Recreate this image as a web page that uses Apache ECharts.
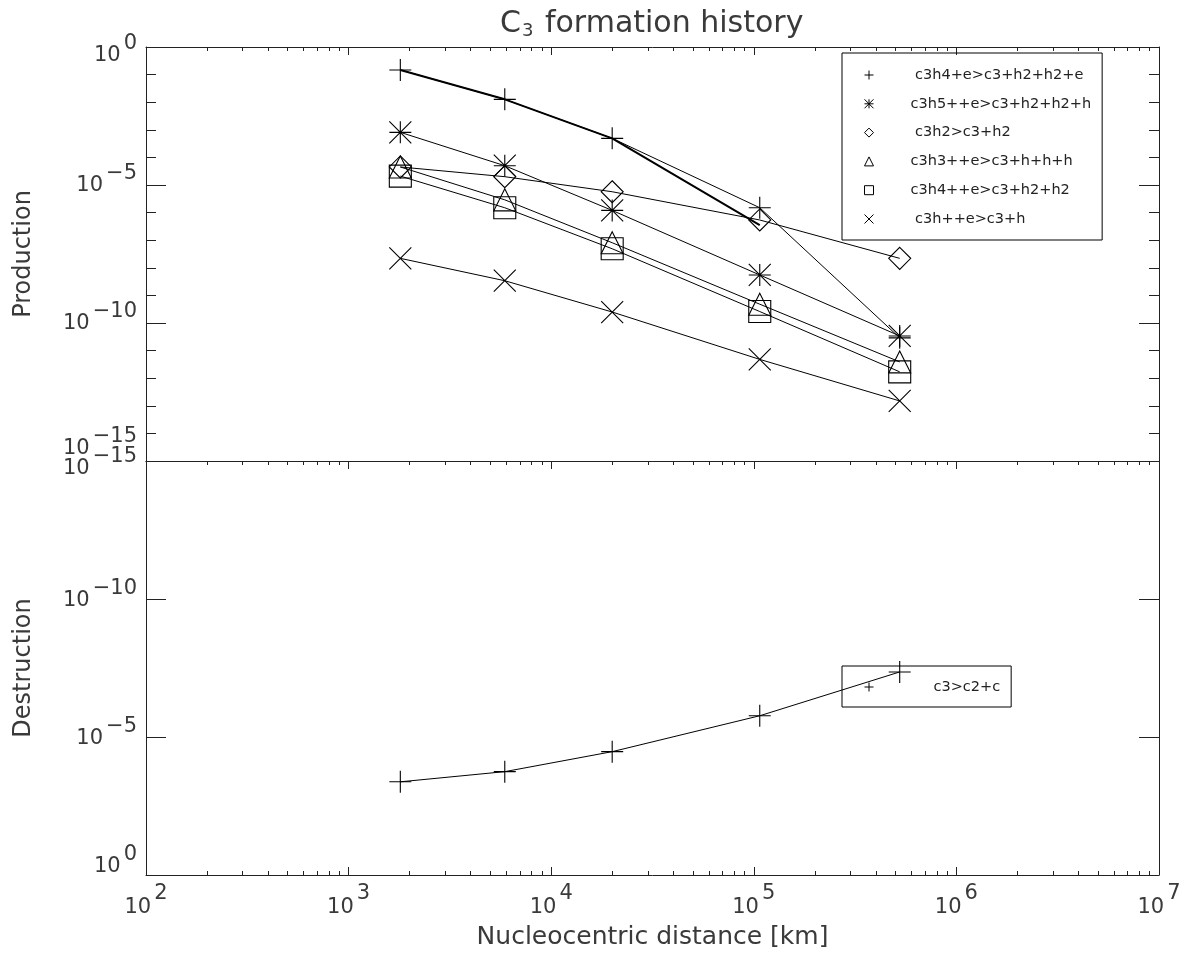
<!DOCTYPE html>
<html>
<head>
<meta charset="utf-8">
<script src="https://cdn.jsdelivr.net/npm/echarts@6/dist/echarts.min.js"></script>
<style>html,body{margin:0;padding:0;background:#fff}#c{width:1195px;height:955px}</style>
</head>
<body>
<div id="c"></div>
<script>
// ---------------- data ----------------
const distances = [1.8e3, 5.9e3, 2.0e4, 1.07e5, 5.25e5];           // km
const prod_c3h4_e   = [1.47e-1, 1.27e-2, 4.9e-4, 1.5e-6, 2.9e-11];
const prod_c3h4_e_b = [1.47e-1, 1.27e-2, 4.9e-4, 3.5e-7];          // heavy curve (no symbols)
const prod_c3h5p_e  = [8.1e-4, 5.0e-5, 1.2e-6, 5.5e-9, 3.4e-11];
const prod_c3h2     = [4.5e-5, 2.0e-5, 5.7e-6, 5.4e-7, 2.2e-8];
const prod_c3h3p_e  = [4.5e-5, 2.9e-6, 8.1e-8, 4.8e-10, 3.9e-12];
const prod_c3h4p_e  = [2.1e-5, 1.5e-6, 4.9e-8, 2.6e-10, 1.7e-12];
const prod_c3hp_e   = [2.2e-8, 3.4e-9, 2.5e-10, 4.8e-12, 1.5e-13];
const dest_c3       = [4.2e-4, 1.8e-4, 3.4e-5, 1.7e-6, 4.4e-8];

const productionNames = [' c3h4+e>c3+h2+h2+e', 'c3h5++e>c3+h2+h2+h', ' c3h2>c3+h2',
                         'c3h3++e>c3+h+h+h', 'c3h4++e>c3+h2+h2', ' c3h++e>c3+h'];
const destructionNames = ['c3>c2+c'];

const xMajorTicks = [1e2, 1e3, 1e4, 1e5, 1e6, 1e7];
const xMinorMult  = [2, 3, 4, 5, 6, 7, 8, 9];
const yMajorTicks = [1e-15, 1e-10, 1e-5, 1e0];
const yDecadeTicks = [1e-15,1e-14,1e-13,1e-12,1e-11,1e-10,1e-9,1e-8,1e-7,1e-6,1e-5,1e-4,1e-3,1e-2,1e-1,1e0];

const titleMain = 'C', titleSub = '3', titleRest = ' formation history';
const xName = 'Nucleocentric distance [km]';
const yNameTop = 'Production', yNameBottom = 'Destruction';

// ---------------- style helpers ----------------
const FONT = 'DejaVu Sans';
const INK = '#222';
const TXT = '#3a3a3a';
const SYM = {
  plus: 'path://M0,5L10,5M5,0L5,10',
  asterisk: 'path://M0,5L10,5M5,0L5,10M0,0L10,10M10,0L0,10',
  diamond: 'path://M5,0L10,5L5,10L0,5Z',
  triangle: 'path://M5,0L10,10L0,10Z',
  square: 'path://M0,0L10,0L10,10L0,10Z',
  cross: 'path://M0,0L10,10M10,0L0,10'
};
const prodSymbols = ['plus', 'asterisk', 'diamond', 'triangle', 'square', 'cross'];
const xMinorTicks = xMajorTicks.slice(0, -1).flatMap(d => xMinorMult.map(k => k * d));

const LBL = {fontFamily: FONT, fontSize: 21, color: TXT, fontWeight: 'normal', verticalAlign: 'middle'};
function pad(o, left) { return o >= 0 ? [2 * o, 0, 0, left] : [0, 0, -2 * o, left]; }
function key(s) { return String(s).replace('-', 'm').replace('.', 'p'); }
function expText(v) { const e = Math.round(Math.log10(v)); return e < 0 ? '\u2212' + (-e) : String(e); }
function makeRich(shifts, raise) {
  const r = {};
  shifts.forEach(s => {
    r['b' + key(s)] = Object.assign({}, LBL, {padding: pad(s, 0)});
    r['s' + key(s)] = Object.assign({}, LBL, {padding: pad(s - raise, 3)});
  });
  return r;
}
function makeFmt(shiftOf) {
  return v => { const s = shiftOf(Math.round(Math.log10(v))); return '{b' + key(s) + '|10}{s' + key(s) + '|' + expText(v) + '}'; };
}

const lineCol = {color: INK, width: 1};
function logX(grid, pos, opts) {
  return Object.assign({
    type: 'log', logBase: 10, gridIndex: grid, position: pos, min: 1e2, max: 1e7,
    splitLine: {show: false}, minorTick: {show: false},
    axisLine: {show: false, onZero: false, lineStyle: lineCol},
    axisTick: {show: false}, axisLabel: {show: false}
  }, opts);
}
function logY(grid, pos, inverse, opts) {
  return Object.assign({
    type: 'log', logBase: 10, gridIndex: grid, position: pos, min: 1e-15, max: 1e0, inverse: inverse,
    splitLine: {show: false}, minorTick: {show: false},
    axisLine: {show: false, onZero: false, lineStyle: lineCol},
    axisTick: {show: false}, axisLabel: {show: false}
  }, opts);
}
function ticks(values, len) {
  return {show: true, inside: true, length: len, customValues: values, lineStyle: lineCol};
}
const nameStyle = {fontFamily: FONT, fontSize: 24, color: TXT, fontWeight: 'normal'};

const xAxes = [
  logX(0, 'top', {axisLine: {show: true, onZero: false, lineStyle: lineCol}, axisTick: ticks(xMajorTicks, 8)}),
  logX(0, 'top', {axisTick: ticks(xMinorTicks, 4)}),
  logX(0, 'bottom', {axisLine: {show: true, onZero: false, lineStyle: lineCol}}),
  logX(1, 'top', {axisLine: {show: true, onZero: false, lineStyle: lineCol}, axisTick: ticks(xMajorTicks, 8)}),
  logX(1, 'top', {axisTick: ticks(xMinorTicks, 4)}),
  logX(1, 'bottom', {
    axisLine: {show: true, onZero: false, lineStyle: lineCol}, axisTick: ticks(xMajorTicks, 8),
    axisLabel: {show: true, customValues: xMajorTicks, margin: 8, showMinLabel: true, showMaxLabel: true,
      formatter: makeFmt(() => 0), rich: makeRich([0], 14)},
    name: xName, nameLocation: 'middle', nameGap: 50,
    nameTextStyle: Object.assign({}, nameStyle, {fontSize: 25})
  }),
  logX(1, 'bottom', {axisTick: ticks(xMinorTicks, 4)})
];

const topShift = e => (e === 0 ? 9 : (e === -15 ? -12 : 1));
const botShift = e => (e === -15 ? 8 : (e === 0 ? -8 : 2));
const yAxes = [
  logY(0, 'left', false, {
    axisLine: {show: true, onZero: false, lineStyle: lineCol}, axisTick: ticks(yMajorTicks, 20),
    axisLabel: {show: true, customValues: yMajorTicks, margin: 9, showMinLabel: true, showMaxLabel: true,
      formatter: makeFmt(topShift), rich: makeRich([9, -12, 1], 12)},
    name: yNameTop, nameLocation: 'middle', nameGap: 110, nameRotate: 90,
    nameTextStyle: nameStyle
  }),
  logY(0, 'left', false, {axisTick: ticks(yDecadeTicks, 10)}),
  logY(0, 'right', false, {axisLine: {show: true, onZero: false, lineStyle: lineCol}, axisTick: ticks(yMajorTicks, 20)}),
  logY(0, 'right', false, {axisTick: ticks(yDecadeTicks, 10)}),
  logY(1, 'left', true, {
    axisLine: {show: true, onZero: false, lineStyle: lineCol}, axisTick: ticks(yMajorTicks, 20),
    axisLabel: {show: true, customValues: yMajorTicks, margin: 9, showMinLabel: true, showMaxLabel: true,
      formatter: makeFmt(botShift), rich: makeRich([8, -8, 2], 12)},
    name: yNameBottom, nameLocation: 'middle', nameGap: 110, nameRotate: 90,
    nameTextStyle: nameStyle
  }),
  logY(1, 'right', true, {axisLine: {show: true, onZero: false, lineStyle: lineCol}, axisTick: ticks(yMajorTicks, 20)})
];

function lineSeries(name, values, sym, xi, yi) {
  return {
    type: 'line', name: name, xAxisIndex: xi, yAxisIndex: yi,
    data: values.map((v, i) => [distances[i], v]),
    symbol: sym ? SYM[sym] : 'none', symbolSize: 22, showSymbol: !!sym, showAllSymbol: true,
    lineStyle: {color: '#000', width: 1},
    itemStyle: {color: 'rgba(0,0,0,0)', borderColor: '#000', borderWidth: 1.1},
    emphasis: {disabled: true}, silent: true, animation: false, clip: false
  };
}
const prodValues = [prod_c3h4_e, prod_c3h5p_e, prod_c3h2, prod_c3h3p_e, prod_c3h4p_e, prod_c3hp_e];
const series = prodValues.map((vals, i) => lineSeries(productionNames[i], vals, prodSymbols[i], 0, 0));
const heavy = lineSeries('heavy', prod_c3h4_e_b, null, 0, 0);
heavy.lineStyle.width = 2;
series.push(heavy);
series.push(lineSeries(destructionNames[0], dest_c3, 'plus', 5, 4));

const legendItem = {color: 'rgba(0,0,0,0)', borderColor: '#000', borderWidth: 1};
const legendText = {fontFamily: FONT, fontSize: 14.5, color: '#222', lineHeight: 18};

const option = {
  backgroundColor: '#fff',
  animation: false,
  title: {
    text: '{c|' + titleMain + '}{s|' + titleSub + '}{t|' + titleRest + '}',
    left: 500, top: 8, padding: 0,
    textStyle: {fontWeight: 'normal', rich: {
      c: {fontFamily: FONT, fontSize: 30, color: TXT, fontWeight: 'normal', verticalAlign: 'middle'},
      s: {fontFamily: FONT, fontSize: 18, color: TXT, fontWeight: 'normal', verticalAlign: 'middle', padding: [14, 2, 0, 1]},
      t: {fontFamily: FONT, fontSize: 30, color: TXT, fontWeight: 'normal', verticalAlign: 'middle'}
    }}
  },
  grid: [
    {left: 146, right: 36, top: 47, height: 414, containLabel: false, outerBoundsMode: 'none'},
    {left: 146, right: 36, top: 461, height: 414, containLabel: false, outerBoundsMode: 'none'}
  ],
  xAxis: xAxes,
  yAxis: yAxes,
  legend: [
    {
      data: productionNames.map((n, i) => ({name: n, icon: SYM[prodSymbols[i]]})),
      orient: 'vertical', left: 842, top: 53, padding: [13, 11, 12, 22],
      itemWidth: 9, itemHeight: 9, itemGap: 10.8,
      borderColor: '#000', borderWidth: 1, borderRadius: 0,
      itemStyle: legendItem, textStyle: Object.assign({padding: [0, 0, 0, 32]}, legendText),
      selectedMode: false
    },
    {
      data: destructionNames.map(n => ({name: n, icon: SYM.plus})),
      orient: 'vertical', left: 842, top: 666, padding: [12, 11, 11, 22],
      itemWidth: 9, itemHeight: 9,
      borderColor: '#000', borderWidth: 1, borderRadius: 0,
      itemStyle: legendItem, textStyle: Object.assign({padding: [0, 0, 0, 55]}, legendText),
      selectedMode: false
    }
  ],
  series: series
};

const chart = echarts.init(document.getElementById('c'), null, {renderer: 'canvas'});
chart.setOption(option);
</script>
</body>
</html>
